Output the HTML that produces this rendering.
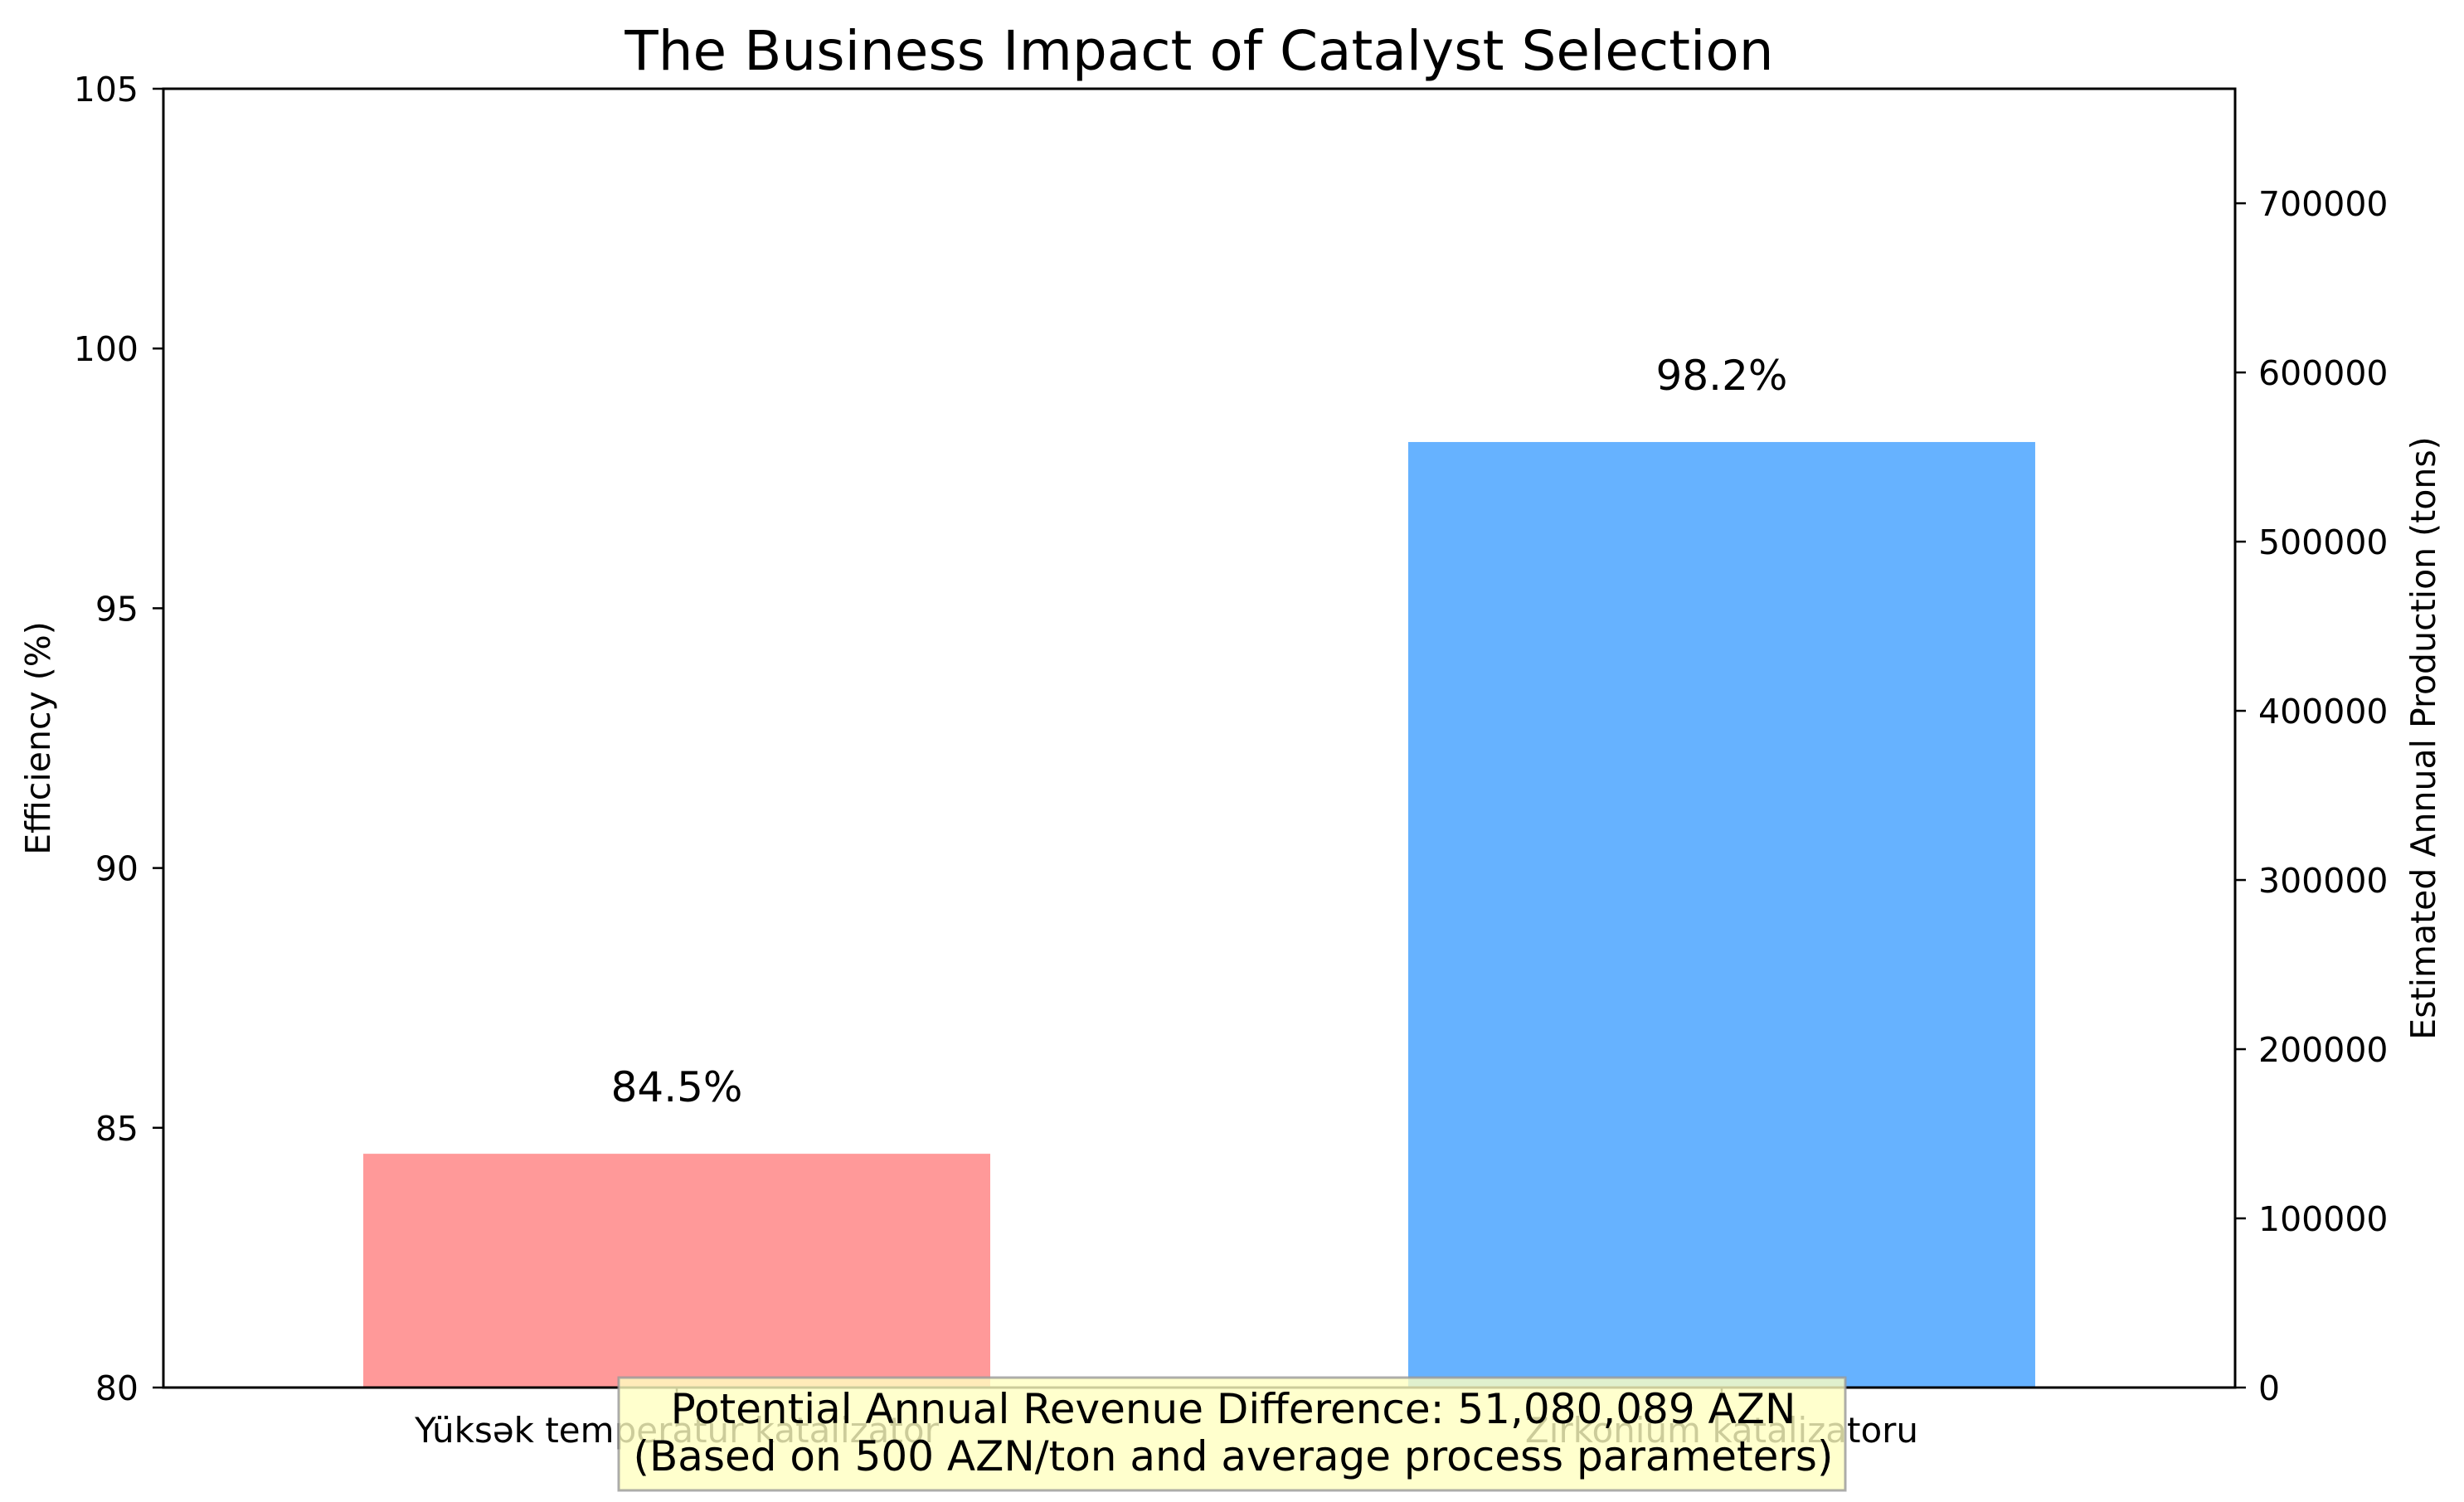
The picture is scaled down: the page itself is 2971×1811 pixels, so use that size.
<!DOCTYPE html>
<html><head><meta charset="utf-8"><style>
html,body{margin:0;padding:0;background:#fff;}
svg{display:block;font-family:"DejaVu Sans","Liberation Sans",sans-serif;}
</style></head><body>
<svg id="chart" width="2971" height="1811" xmlns="http://www.w3.org/2000/svg">
<rect x="0" y="0" width="2971" height="1811" fill="#fff"/>
<g id="bars"></g>
<g id="axes"></g>
<text x="1446" y="84" font-size="66" text-anchor="middle">The Business Impact of Catalyst Selection</text>
<text transform="translate(60,890) rotate(-90)" font-size="41" text-anchor="middle">Efficiency (%)</text>
<text transform="translate(2936,890) rotate(-90)" font-size="41" text-anchor="middle">Estimated Annual Production (tons)</text>
<g id="annot"></g>
</svg>
<script>
const categories = ["Yüksək temperatur katalizator", "Zirkonium katalizatoru"];
const efficiency = [84.5, 98.2];
const barColors = ["#ff9999", "#66b2ff"];
const leftTicks = [80, 85, 90, 95, 100, 105];
const rightTicks = [0, 100000, 200000, 300000, 400000, 500000, 600000, 700000];
const annotationLines = ["Potential Annual Revenue Difference: 51,080,089 AZN", "(Based on 500 AZN/ton and average process parameters)"];

const NS = "http://www.w3.org/2000/svg";
const L = 197, R = 2695, T = 107, B = 1673;
const xMin = -0.4913, xMax = 1.4913, yMin = 80, yMax = 105, rMax = 767700;
const xs = v => L + (v - xMin) / (xMax - xMin) * (R - L);
const ys = v => B - (v - yMin) / (yMax - yMin) * (B - T);
const yr = v => B - v / rMax * (B - T);
function mk(tag, attrs, parent, text) {
  const e = document.createElementNS(NS, tag);
  for (const k in attrs) e.setAttribute(k, attrs[k]);
  if (text !== undefined) e.textContent = text;
  parent.appendChild(e);
  return e;
}
const bars = document.getElementById('bars');
const axes = document.getElementById('axes');
const bw = 0.6;
categories.forEach((c, i) => {
  const x0 = xs(i - bw / 2), x1 = xs(i + bw / 2);
  const r = mk('rect', {x: x0, y: ys(efficiency[i]), width: x1 - x0, height: B - ys(efficiency[i]), fill: barColors[i]}, bars);
  
  
  const t = mk('text', {x: xs(i), y: ys(efficiency[i]) - 63, 'font-size': 50, 'text-anchor': 'middle'}, bars, efficiency[i].toFixed(1) + '%');
  
  
  const tk = mk('line', {x1: xs(i), x2: xs(i), y1: B, y2: B + 13, stroke: '#000', 'stroke-width': 2.5}, axes);
  
  
  const tl = mk('text', {x: xs(i), y: B + 66, 'font-size': 42, 'text-anchor': 'middle'}, axes, c);
  
  
});
leftTicks.forEach(v => {
  const l = mk('line', {x1: L - 13, x2: L, y1: ys(v), y2: ys(v), stroke: '#000', 'stroke-width': 2.5}, axes);
  
  
  const t = mk('text', {x: L - 30, y: ys(v) + 15, 'font-size': 41, 'text-anchor': 'end'}, axes, String(v));
  
  
});
rightTicks.forEach(v => {
  const l = mk('line', {x1: R, x2: R + 13, y1: yr(v), y2: yr(v), stroke: '#000', 'stroke-width': 2.5}, axes);
  
  
  const t = mk('text', {x: R + 28, y: yr(v) + 15, 'font-size': 41, 'text-anchor': 'start'}, axes, String(v));
  
  
});
const frame = mk('rect', {x: L, y: T, width: R - L, height: B - T, fill: 'none', stroke: '#000', 'stroke-width': 3}, axes);


const an = document.getElementById('annot');
const box = mk('rect', {x: 746, y: 1661, width: 1479, height: 136, fill: '#ffffc0', 'fill-opacity': 0.8, stroke: '#999', 'stroke-opacity': 0.8, 'stroke-width': 3}, an);


annotationLines.forEach((s, i) => {
  const t = mk('text', {x: 1487, y: 1716 + i * 57, 'font-size': 50, 'text-anchor': 'middle'}, an, s);
  
  
});
</script>
</body></html>
